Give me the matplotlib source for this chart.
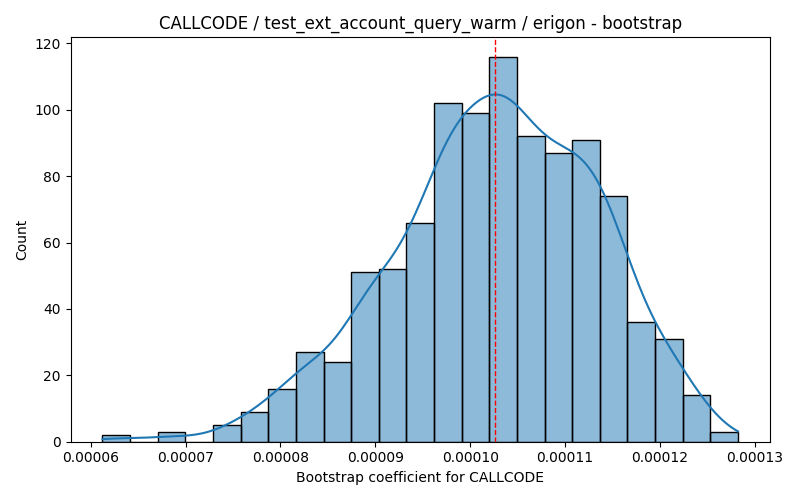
import numpy as np
import matplotlib
matplotlib.use('Agg')
import matplotlib.pyplot as plt

# histogram (23 equal bins)
bin_start = 0.00006124
bin_stop = 0.00012823
counts = [2, 0, 3, 0, 5, 9, 16, 27, 24, 51, 52, 66, 102, 99, 116, 92, 87, 91, 74, 36, 31, 14, 3]
mean_value = 0.0001026

title = 'CALLCODE / test_ext_account_query_warm / erigon - bootstrap'
xlabel = 'Bootstrap coefficient for CALLCODE'
ylabel = 'Count'

counts = np.array(counts, dtype=float)
edges = np.linspace(bin_start, bin_stop, len(counts) + 1)
width = edges[1] - edges[0]
centers = edges[:-1] + width / 2

# KDE from the binned counts (Scott bandwidth, Sheppard-corrected sd), scaled to counts
n = counts.sum()
mu = np.sum(centers * counts) / n
var = np.sum(counts * (centers - mu) ** 2) / n - width ** 2 / 12
bw = np.sqrt(var) * n ** (-1 / 5)
grid = np.linspace(bin_start, bin_stop, 200)
dens = np.sum(counts[None, :] * np.exp(-0.5 * ((grid[:, None] - centers[None, :]) / bw) ** 2), axis=1)
dens = dens / (n * bw * np.sqrt(2 * np.pi))
kde = dens * n * width

fig, ax = plt.subplots(figsize=(8, 5), dpi=100)
ax.bar(edges[:-1], counts, width=width, align='edge', color='#1f77b4', alpha=0.5,
       edgecolor='none')
ax.bar(edges[:-1], counts, width=width, align='edge', fill=False, edgecolor='black',
       linewidth=1)
ax.plot(grid, kde, color='#1f77b4', linewidth=1.5)
ax.axvline(mean_value, color='red', linestyle='--', linewidth=1, zorder=5)
ax.set_title(title)
ax.set_xlabel(xlabel)
ax.set_ylabel(ylabel)
fig.tight_layout()
fig.savefig('out.png')
